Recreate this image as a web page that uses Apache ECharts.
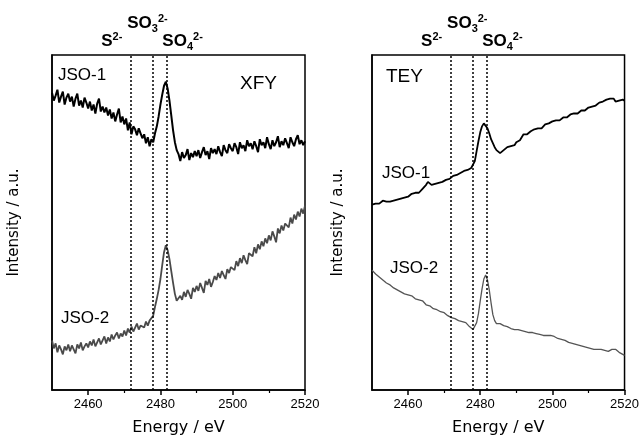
<!DOCTYPE html>
<html lang="en">

<head>
  <meta charset="UTF-8">
  <title>S K-edge XANES</title>
  <style>
    html,body {
      width:100%;
      height:100%;
      margin: 0;
      background: #fff;
    }
  </style>
</head>

<body>
  <div id="chart" style="width:642px;height:441px"></div>
  <script src="https://cdn.jsdelivr.net/npm/echarts@6/dist/echarts.min.js"></script>
  <script>
    // energy grid: 2450 -> 2520 eV, 0.5 eV step
    var E0 = 2450;
    var STEP = 0.5;
    var xMin = 2450, xMax = 2520;
    var majorTicks = [2460, 2480, 2500, 2520];
    var minorTicks = [2470, 2490, 2510];
    // reference lines (S2-, SO3 2-, SO4 2-)
    var refEnergies = [2471.8, 2477.8, 2481.7];

    // XFY, JSO-1 (arbitrary units)
    var xfyJso1 = [
      300, 292, 297, 303, 290, 296, 301, 288, 295, 299,
      291, 296, 286, 294, 299, 287, 292, 285, 295, 290,
      284, 291, 282, 288, 279, 289, 294, 281, 286, 280,
      285, 277, 283, 274, 280, 271, 278, 284, 270, 276,
      268, 274, 262, 270, 258, 266, 263, 257, 264, 259,
      254, 258, 249, 255, 246, 253, 250, 259, 266, 276,
      288, 298, 307, 311, 304, 292, 277, 262, 250, 242,
      238, 231, 240, 234, 237, 243, 232, 239, 235, 241,
      236, 242, 234, 240, 245, 237, 241, 233, 244, 239,
      243, 238, 246, 240, 236, 247, 242, 239, 248, 244,
      241, 249, 245, 238, 250, 244, 247, 241, 252, 246,
      249, 243, 251, 246, 240, 253, 247, 250, 244, 255,
      248, 243, 252, 246, 250, 256, 245, 251, 247, 254,
      249, 244, 255, 250, 246, 253, 257, 248, 252, 247,
      251
    ];
    // XFY, JSO-2
    var xfyJso2 = [
      50, 42, 47, 38, 45, 41, 36, 44, 40, 46,
      39, 45, 41, 37, 46, 42, 48, 40, 44, 47,
      43, 49, 45, 51, 44, 48, 52, 46, 50, 54,
      47, 53, 49, 56, 51, 55, 58, 52, 57, 54,
      60, 55, 62, 58, 64, 59, 63, 67, 61, 65,
      66, 63, 69, 65, 70, 68, 75, 84, 92, 101,
      112, 126, 139, 146, 141, 132, 120, 108, 97, 90,
      88, 95, 91, 99, 94, 101, 97, 92, 103, 99,
      105, 100, 108, 103, 98, 110, 106, 112, 104, 109,
      115, 111, 118, 113, 120, 116, 112, 122, 118, 124,
      126, 121, 130, 125, 133, 128, 136, 131, 127, 138,
      140, 135, 144, 138, 147, 142, 150, 145, 153, 148,
      156, 151, 160, 155, 149, 163, 158, 166, 161, 168,
      170, 164, 174, 168, 177, 172, 180, 175, 183, 178,
      186
    ];
    // TEY, JSO-1
    var teyJso1 = [
      187, 189, 188, 190, 188, 189, 191, 189, 190, 191,
      190, 192, 191, 193, 192, 194, 193, 195, 194, 196,
      195, 197, 198, 197, 199, 200, 199, 201, 203, 202,
      207, 210, 208, 207, 209, 208, 207, 209, 208, 210,
      210, 212, 214, 213, 215, 216, 215, 217, 218, 219,
      220, 221, 220, 222, 223, 224, 226, 231, 241, 251,
      260, 266, 269, 268, 264, 259, 253, 249, 245, 242,
      240, 239, 240, 242, 243, 245, 244, 246, 248, 247,
      250, 249, 252, 254, 258, 259, 258, 260, 261, 262,
      263, 262, 264, 265, 264, 266, 268, 267, 269, 270,
      271, 270, 272, 273, 272, 274, 275, 276, 275, 277,
      278, 277, 279, 280, 279, 281, 282, 283, 282, 284,
      285, 284, 286, 288, 287, 289, 290, 289, 291, 292,
      293, 292, 294, 295, 294, 291, 290, 292, 291, 293,
      292
    ];
    // TEY, JSO-2
    var teyJso2 = [
      121, 119, 117, 116, 114, 113, 111, 110, 108, 107,
      106, 104, 103, 102, 101, 100, 99, 98, 97, 97,
      96, 95, 95, 93, 92, 91, 91, 89, 90, 88,
      86, 85, 85, 84, 82, 81, 81, 80, 79, 79,
      78, 76, 75, 74, 73, 73, 72, 71, 70, 70,
      69, 68, 68, 66, 64, 63, 61, 62, 68, 77,
      90, 102, 112, 116, 111, 101, 88, 76, 70, 67,
      66, 67, 66, 65, 64, 64, 63, 62, 62, 61,
      61, 61, 60, 60, 59, 59, 60, 58, 58, 58,
      58, 57, 57, 56, 56, 55, 56, 55, 55, 55,
      55, 54, 53, 52, 52, 51, 50, 50, 49, 48,
      48, 47, 47, 46, 46, 45, 45, 44, 44, 43,
      43, 42, 42, 41, 42, 41, 40, 41, 40, 40,
      40, 39, 40, 41, 42, 41, 40, 38, 37, 36,
      35
    ];

    function pts(vals) {
      return vals.map(function (v, i) { return [E0 + i * STEP, v]; });
    }

    var myChart = echarts.init(document.getElementById('chart'));

    var labelRich = {
      b: { fontSize: 17, fontWeight: 'bold', fontFamily: 'Liberation Sans', color: '#000', lineHeight: 21 },
      sup: { fontSize: 11, fontWeight: 'bold', fontFamily: 'Liberation Sans', color: '#000', verticalAlign: 'top', lineHeight: 11 },
      sub: { fontSize: 11, fontWeight: 'bold', fontFamily: 'Liberation Sans', color: '#000', verticalAlign: 'bottom', lineHeight: 11 }
    };
    var refTexts = ['{b|S}{sup|2-}', '{b|SO}{sub|3}{sup|2-}', '{b|SO}{sub|4}{sup|2-}'];
    var refOffsets = [[-19, 2], [-5, -16], [16, 2]];

    function refLines() {
      return {
        silent: true,
        symbol: 'none',
        animation: false,
        lineStyle: { type: [2, 2], color: '#000', width: 1.5 },
        data: refEnergies.map(function (e, i) {
          return {
            xAxis: e,
            label: {
              show: true,
              position: 'end',
              formatter: refTexts[i],
              rich: labelRich,
              offset: refOffsets[i]
            }
          };
        })
      };
    }

    function mainX(gi) {
      return {
        type: 'value', gridIndex: gi, min: xMin, max: xMax,
        name: 'Energy / eV', nameLocation: 'middle', nameGap: 30,
        nameTextStyle: { fontFamily: 'DejaVu Sans', fontSize: 16, color: '#000' },
        axisLine: { lineStyle: { color: '#000', width: 1.5 } },
        axisTick: { inside: false, length: 5, customValues: majorTicks, lineStyle: { color: '#000', width: 1.5 } },
        axisLabel: {
          customValues: majorTicks, color: '#000', fontSize: 13, fontFamily: 'Liberation Sans', margin: 8,
          formatter: function (v) { return String(v); }
        },
        splitLine: { show: false }
      };
    }
    function minorX(gi) {
      return {
        type: 'value', gridIndex: gi, min: xMin, max: xMax, position: 'bottom',
        axisLine: { show: false },
        axisTick: { length: 3, customValues: minorTicks, lineStyle: { color: '#000', width: 1.2 } },
        axisLabel: { show: false },
        splitLine: { show: false }
      };
    }
    function mainY(gi, gap) {
      return {
        type: 'value', gridIndex: gi, min: 0, max: 338,
        name: 'Intensity / a.u.', nameLocation: 'middle', nameGap: gap,
        nameTextStyle: { fontFamily: 'DejaVu Sans', fontSize: 15, color: '#000' },
        axisLine: { show: true, lineStyle: { color: '#000', width: 1.5 } },
        axisTick: { show: false },
        axisLabel: { show: false },
        splitLine: { show: false }
      };
    }

    var txt = function (x, y, s, size) {
      return {
        type: 'text', left: x, top: y,
        style: { text: s, font: size + 'px "Liberation Sans"', fill: '#000' }
      };
    };

    var option = {
      animation: false,
      grid: [
        { left: 52, top: 55, right: 337, bottom: 48, show: true, borderColor: '#000', borderWidth: 1.5 },
        { left: 372, top: 55, right: 16, bottom: 48, show: true, borderColor: '#000', borderWidth: 1.5 }
      ],
      xAxis: [mainX(0), mainX(1), minorX(0), minorX(1)],
      yAxis: [mainY(0, 30), mainY(1, 26)],
      graphic: [
        txt(58, 67, 'JSO-1', 17),
        txt(240, 74, 'XFY', 19),
        txt(61, 310, 'JSO-2', 17),
        txt(386, 67, 'TEY', 19),
        txt(382, 165, 'JSO-1', 17),
        txt(390, 260, 'JSO-2', 17)
      ],
      series: [
        {
          type: 'line', xAxisIndex: 0, yAxisIndex: 0, data: pts(xfyJso1),
          symbol: 'none', lineStyle: { color: '#000', width: 2 },
          markLine: refLines()
        },
        {
          type: 'line', xAxisIndex: 0, yAxisIndex: 0, data: pts(xfyJso2),
          symbol: 'none', lineStyle: { color: '#4a4a4a', width: 1.8 }
        },
        {
          type: 'line', xAxisIndex: 1, yAxisIndex: 1, data: pts(teyJso1),
          symbol: 'none', lineStyle: { color: '#000', width: 1.8 },
          markLine: refLines()
        },
        {
          type: 'line', xAxisIndex: 1, yAxisIndex: 1, data: pts(teyJso2),
          symbol: 'none', lineStyle: { color: '#555', width: 1.3 }
        }
      ]
    };

    myChart.setOption(option);
  </script>
</body>

</html>
